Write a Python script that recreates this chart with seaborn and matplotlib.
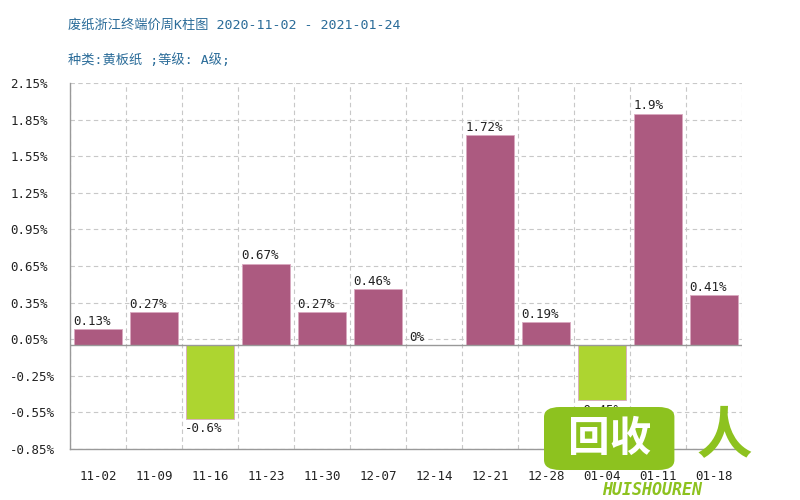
import matplotlib
matplotlib.use("Agg")
import matplotlib.pyplot as plt
import seaborn as sns
import pandas as pd
import numpy as np
from matplotlib.patches import FancyBboxPatch

weeks = ['11-02', '11-09', '11-16', '11-23', '11-30', '12-07',
         '12-14', '12-21', '12-28', '01-04', '01-11', '01-18']
changes = [0.13, 0.27, -0.6, 0.67, 0.27, 0.46, 0.0, 1.72, 0.19, -0.45, 1.9, 0.41]
labels = ['0.13%', '0.27%', '-0.6%', '0.67%', '0.27%', '0.46%',
          '0%', '1.72%', '0.19%', '-0.45%', '1.9%', '0.41%']
yticks = [2.15, 1.85, 1.55, 1.25, 0.95, 0.65, 0.35, 0.05, -0.25, -0.55, -0.85]

df = pd.DataFrame({'week': weeks, 'change': changes})
df['sign'] = np.where(df['change'] < 0, 'down', 'up')

sns.set_style('white')
plt.rcParams['font.family'] = ['DejaVu Sans Mono', 'Noto Sans CJK SC']

fig = plt.figure(figsize=(8, 5), dpi=100)
ax = fig.add_axes([0.0875, 0.102, 0.84, 0.732])

sns.barplot(data=df, x='week', y='change', hue='sign',
            palette={'up': '#ac5a80', 'down': '#add530'},
            dodge=False, width=0.84, legend=False, ax=ax, saturation=1,
            edgecolor='#d9a9c0', linewidth=0.6, zorder=3)

ax.set_xlim(-0.5, len(weeks) - 0.5)
ax.set_ylim(-0.85, 2.15)
ax.set_yticks(yticks)
ax.set_yticklabels([f'{v:.2f}%' for v in yticks], fontsize=9, color='#222222')
for lab in ax.get_yticklabels():
    lab.set_horizontalalignment('left')
ax.set_xticks(range(len(weeks)))
ax.set_xticklabels(weeks, fontsize=9, color='#222222')
ax.tick_params(axis='both', length=0)
ax.tick_params(axis='x', pad=15)
ax.tick_params(axis='y', pad=43)
ax.set_xlabel('')
ax.set_ylabel('')

# dashed grid: horizontal at ticks, vertical between categories
ax.set_xticks(np.arange(len(weeks) + 1) - 0.5, minor=True)
ax.tick_params(axis='x', which='minor', length=0)
ax.grid(axis='y', which='major', linestyle=(0, (4, 3)), color='#c8c8c8', linewidth=0.8, zorder=0)
ax.grid(axis='x', which='minor', linestyle=(0, (4, 3)), color='#c8c8c8', linewidth=0.8, zorder=0)
ax.grid(axis='x', which='major', visible=False)
ax.axhline(0, color='#999999', linewidth=1, zorder=4)

for s in ['top', 'right']:
    ax.spines[s].set_visible(False)
for s in ['left', 'bottom']:
    ax.spines[s].set_color('#999999')
    ax.spines[s].set_linewidth(1)

for i, (v, t) in enumerate(zip(changes, labels)):
    x0 = i - 0.44
    if v < 0:
        ax.text(x0, v - 0.03, t, ha='left', va='top', fontsize=9, color='#222222', zorder=5)
    else:
        ax.text(x0, v + 0.01, t, ha='left', va='bottom', fontsize=9, color='#222222', zorder=5)

fig.text(0.085, 0.95, '废纸浙江终端价周K柱图 2020-11-02 - 2021-01-24',
         fontsize=9.5, color='#2b6c99', ha='left', va='center')
fig.text(0.085, 0.88, '种类:黄板纸 ;等级: A级;',
         fontsize=9.5, color='#2b6c99', ha='left', va='center')

# watermark logo (sits over the last tick labels, as in the source)
logo = FancyBboxPatch((0.68, 0.06), 0.163, 0.126,
                      boxstyle='round,pad=0,rounding_size=0.02',
                      transform=fig.transFigure, facecolor='#8dc21f',
                      edgecolor='none', zorder=10)
fig.patches.append(logo)
fig.text(0.762, 0.123, '回收', fontsize=30, fontweight='bold', color='white',
         ha='center', va='center', zorder=11)
fig.text(0.815, 0.02, 'HUISHOUREN', fontsize=12, fontweight='bold', fontstyle='italic',
         color='#8dc21f', ha='center', va='center', zorder=11)
fig.text(0.905, 0.125, '人', fontsize=40, fontweight='bold', color='#8dc21f',
         ha='center', va='center', zorder=11)

fig.savefig('out.png', dpi=100)
